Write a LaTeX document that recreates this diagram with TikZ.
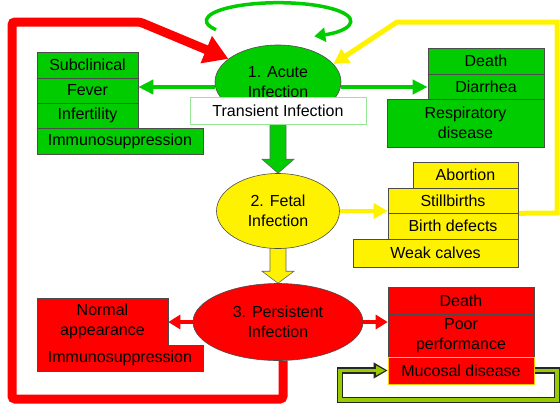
\documentclass[tikz,border=0pt]{standalone}
\usepackage{fontspec}
\setmainfont{Liberation Sans}
\usetikzlibrary{shapes.geometric,arrows.meta,calc,backgrounds}
\definecolor{accgreen}{RGB}{0,204,0}
\definecolor{paleg}{RGB}{150,230,150}
\definecolor{loopgreen}{RGB}{153,204,0}
\definecolor{mucline}{RGB}{255,200,0}
\begin{document}
\begin{tikzpicture}[x=1pt,y=-1pt,font=\fontsize{16}{20}\selectfont,
  box/.style={draw=black!70,line width=0.6pt,inner sep=0pt,align=center},
  gbox/.style={box,fill=accgreen},
  ybox/.style={box,fill=yellow},
  rbox/.style={box,fill=red},
  stage/.style={ellipse,draw=black!70,line width=0.6pt,inner sep=0pt,align=center},
  garrow/.style={accgreen,line width=4pt,-{Triangle[length=15pt,width=14pt]}},
  yarrow/.style={yellow,line width=4pt,-{Triangle[length=14pt,width=15pt]}},
  rarrow/.style={red,line width=4pt,-{Triangle[length=12pt,width=14pt]}}]
\useasboundingbox (0,0) rectangle (560,405);

\node[stage,fill=accgreen,minimum width=126pt,minimum height=74pt] (ell1) at (278,82) {1. Acute\\Infection};
\node[box,draw=paleg,fill=white,minimum width=176pt,minimum height=27pt] (trans) at (278,110.5) {Transient Infection};
\node[stage,fill=yellow,minimum width=123pt,minimum height=75pt] (ell2) at (278,211) {2. Fetal\\Infection};
\node[stage,fill=red,minimum width=170pt,minimum height=77pt] (ell3) at (278,322) {3. Persistent\\Infection};

\node[gbox,minimum width=101pt,minimum height=26pt] (subc) at (87.5,65) {Subclinical};
\node[gbox,minimum width=101pt,minimum height=25pt] (fever) at (87.5,90.5) {Fever};
\node[gbox,minimum width=101pt,minimum height=25pt] (infert) at (87.5,115.5) {Infertility};
\node[gbox,minimum width=166pt,minimum height=26pt] (immuno1) at (120,141) {Immunosuppression};

\node[gbox,minimum width=116pt,minimum height=26pt] (death1) at (486,61) {Death};
\node[gbox,minimum width=116pt,minimum height=25pt] (diarr) at (486,86.5) {Diarrhea};
\node[gbox,minimum width=157pt,minimum height=48pt] (resp) at (465.5,123) {Respiratory\\disease};

\node[ybox,minimum width=105pt,minimum height=26pt] (abort) at (465.5,175) {Abortion};
\node[ybox,minimum width=130pt,minimum height=25pt] (still) at (453,200.5) {Stillbirths};
\node[ybox,minimum width=130pt,minimum height=26pt] (birth) at (453,226) {Birth defects};
\node[ybox,minimum width=165pt,minimum height=28pt] (weak) at (435.5,253) {Weak calves};

\node[rbox,minimum width=131pt,minimum height=47pt] (normal) at (102.5,321.5) {Normal\\appearance};
\node[rbox,minimum width=166pt,minimum height=26pt] (immuno2) at (120,358) {Immunosuppression};
\node[rbox,minimum width=146pt,minimum height=27pt] (death2) at (461,300.5) {Death};
\node[rbox,minimum width=146pt,minimum height=43pt] (poor) at (461,335.5) {Poor\\performance};
\node[rbox,draw=mucline,minimum width=146pt,minimum height=27pt] (mucosal) at (461,370.5) {Mucosal disease};

\coordinate (rb) at (12,399);
\coordinate (rt) at (12,22);
\coordinate (rk) at (140,22);
\coordinate (yr) at (557,213);
\coordinate (yt) at (557,22);
\coordinate (yk) at (397,22);
\coordinate (mr) at (557,400);
\coordinate (ml) at (340,400);

\begin{scope}[on background layer]
\draw[garrow] ([yshift=-5pt]ell1.west) -- ([yshift=-5pt]ell1.west -| fever.east);
\draw[garrow] ([yshift=-5pt]ell1.east) -- ([yshift=-5pt]ell1.east -| diarr.west);
\draw[yarrow] (ell2.east) -- (ell2.east -| still.west);
\draw[rarrow] (ell3.west) -- (ell3.west -| normal.east);
\draw[rarrow] (ell3.east) -- (ell3.east -| poor.west);

\filldraw[fill=accgreen,draw=black!60,line width=0.6pt] let \p1=(trans.south), \p2=(ell2.north) in
  (\x1-8pt,\y1) -- (\x1+8pt,\y1) -- (\x1+8pt,\y2+14pt) -- (\x1+16pt,\y2+14pt) -- (\x1,\y2)
  -- (\x1-16pt,\y2+14pt) -- (\x1-8pt,\y2+14pt) -- cycle;
\filldraw[fill=yellow,draw=black!60,line width=0.6pt] let \p1=(ell2.south), \p2=(ell3.north) in
  (\x1-8pt,\y1+4pt) -- (\x1+8pt,\y1+4pt) -- (\x1+8pt,\y2+12pt) -- (\x1+16pt,\y2+12pt) -- (\x1,\y2)
  -- (\x1-16pt,\y2+12pt) -- (\x1-8pt,\y2+12pt) -- cycle;

\draw[red,line width=9pt,rounded corners=3pt,-{Triangle[length=24pt,width=28pt]}]
  ([xshift=5pt]ell3.south) |- (rb) -- (rt) -- (rk) -- (ell1.155);
\draw[yellow,line width=5pt,-{Triangle[length=15pt,width=16pt]}]
  (still.south east) -- (yr) -- (yt) -- (yk) -- (ell1.18);
\draw[accgreen,line width=3.5pt,-{Triangle[length=11pt,width=14pt]}]
  (ell1.north) ++(-62,-15) arc[start angle=150,end angle=420,x radius=72,y radius=18];

\draw[black!85,line width=6.5pt,-{Triangle[length=14pt,width=15pt]}]
  (mucosal.east) -| (mr) -- (ml) |- (mucosal.west);
\draw[loopgreen,line width=3.5pt,shorten >=2.5pt,-{Triangle[length=9pt,width=9pt]}]
  (mucosal.east) -| (mr) -- (ml) |- (mucosal.west);
\end{scope}
\end{tikzpicture}
\end{document}
